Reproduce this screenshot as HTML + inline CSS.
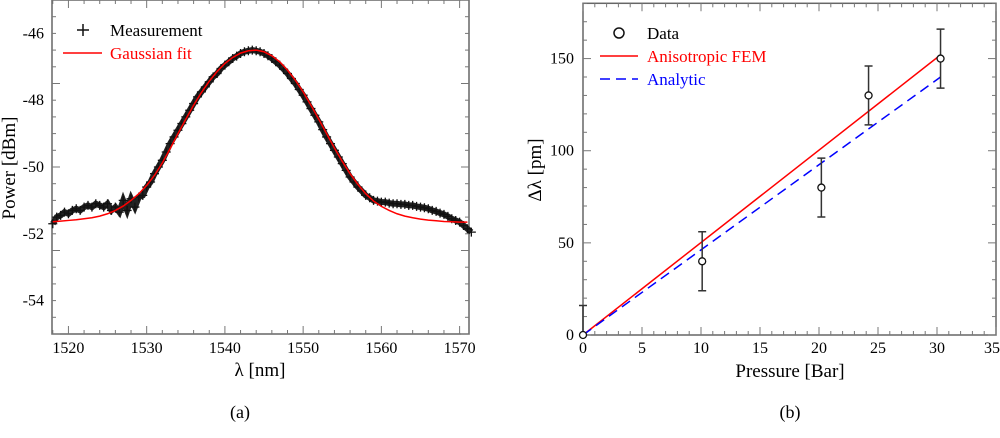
<!DOCTYPE html>
<html><head><meta charset="utf-8"><style>
html,body{margin:0;padding:0;background:#fff;}
svg{display:block;}
svg text{font-family:"Liberation Serif",serif;}
</style></head><body>
<svg id="fig" width="1000" height="438" viewBox="0 0 1000 438" font-family="Liberation Serif, serif">
<g id="pa"></g>
<g id="pb"></g>
<text x="240" y="418" font-size="18" text-anchor="middle">(a)</text>
<text x="790" y="418" font-size="18" text-anchor="middle">(b)</text>
</svg>
<script>
// ---- Panel (a) data ----
const measX0 = 1518, measStep = 0.5;
const measValues = [-51.7,-51.5,-51.45,-51.35,-51.4,-51.3,-51.25,-51.3,-51.2,-51.15,-51.2,-51.1,-51.15,-51.2,-51.1,-51.3,-51.2,-51.35,-51.0,-51.3,-50.95,-51.2,-50.9,-50.85,-50.6,-50.45,-50.2,-50.0,-49.8,-49.55,-49.3,-49.1,-48.9,-48.7,-48.5,-48.3,-48.1,-47.9,-47.75,-47.6,-47.45,-47.3,-47.2,-47.05,-46.95,-46.85,-46.75,-46.68,-46.6,-46.55,-46.52,-46.5,-46.52,-46.55,-46.6,-46.67,-46.75,-46.85,-46.95,-47.07,-47.2,-47.35,-47.5,-47.68,-47.85,-48.05,-48.25,-48.45,-48.65,-48.88,-49.1,-49.3,-49.5,-49.7,-49.9,-50.1,-50.3,-50.45,-50.6,-50.72,-50.85,-50.92,-51.0,-51.02,-51.05,-51.05,-51.08,-51.1,-51.1,-51.12,-51.12,-51.15,-51.15,-51.18,-51.2,-51.22,-51.25,-51.3,-51.33,-51.38,-51.42,-51.48,-51.55,-51.6,-51.65,-51.75,-51.85,-51.95];
const fitX0 = 1518, fitStep = 1;
const fitValues = [-51.64,-51.62,-51.6,-51.58,-51.55,-51.52,-51.47,-51.4,-51.3,-51.17,-51.0,-50.8,-50.55,-50.25,-49.88,-49.45,-49.0,-48.57,-48.15,-47.77,-47.43,-47.14,-46.9,-46.72,-46.59,-46.52,-46.5,-46.55,-46.67,-46.85,-47.1,-47.4,-47.75,-48.15,-48.57,-49.0,-49.43,-49.83,-50.2,-50.52,-50.8,-51.02,-51.18,-51.3,-51.4,-51.47,-51.52,-51.56,-51.59,-51.61,-51.63,-51.64,-51.65,-51.65];
const aXTicks = [1520,1530,1540,1550,1560,1570];
const aYTicks = [-46,-48,-50,-52,-54];
// ---- Panel (b) data ----
const pressure = [0,10.1,20.2,24.2,30.3];
const shift = [0,40,80,130,150];
const shiftErr = [16,16,16,16,16];
const femLine = [[0,0],[30.3,152]];
const analyticLine = [[0,0],[30.3,140]];
const bXTicks = [0,5,10,15,20,25,30,35];
const bYTicks = [0,50,100,150];

const NS="http://www.w3.org/2000/svg";
function mk(parent,tag,attrs){const e=document.createElementNS(NS,tag);for(const k in attrs)e.setAttribute(k,attrs[k]);parent.appendChild(e);return e;}

function frame(g,L,T,R,B,xs,ys,xMin,xMax,yMin,yMax,xMinor,yMinor){
  const r=mk(g,'rect',{x:L,y:T,width:R-L,height:B-T,fill:'none',stroke:'#666','stroke-width':1.5});
  
  
  for(let v=xMin;v<=xMax+1e-9;v+=xMinor){const x=xs(v);const maj=Math.abs(v/ (xMinor*5) - Math.round(v/(xMinor*5)))<1e-6;const len=maj?8:4;
    mk(g,'line',{x1:x,x2:x,y1:B,y2:B-len,stroke:'#777','stroke-width':1});
    mk(g,'line',{x1:x,x2:x,y1:T,y2:T+len,stroke:'#777','stroke-width':1});}
  for(let v=yMin;v<=yMax+1e-9;v+=yMinor){const y=ys(v);const maj=Math.abs(v/(yMinor*5)-Math.round(v/(yMinor*5)))<1e-6;const len=maj?8:4;
    mk(g,'line',{x1:L,x2:L+len,y1:y,y2:y,stroke:'#777','stroke-width':1});
    mk(g,'line',{x1:R,x2:R-len,y1:y,y2:y,stroke:'#777','stroke-width':1});}
}

// Panel a
(function(){
  const g=document.getElementById('pa');
  const L=52,R=469,T=0,B=334, xMin=1517.9,xMax=1571.2,yMin=-55,yMax=-45;
  const xs=v=>L+(v-xMin)/(xMax-xMin)*(R-L), ys=v=>B-(v-yMin)/(yMax-yMin)*(B-T);
  frame(g,L,T,R,B,xs,ys,1518,1570,-55,-45,2,0.5);
  aXTicks.forEach(v=>{const t=mk(g,'text',{x:xs(v),y:353,'font-size':16,'text-anchor':'middle'});t.textContent=v;
    
    });
  aYTicks.forEach(v=>{const t=mk(g,'text',{x:44,y:ys(v)+5,'font-size':16,'text-anchor':'end'});t.textContent=v;
    
    });
  const xt=mk(g,'text',{x:260,y:376,'font-size':19,'text-anchor':'middle'});xt.textContent='λ [nm]';
  
  
  const yt=mk(g,'text',{x:0,y:0,'font-size':19,'text-anchor':'middle',transform:'translate(15,168) rotate(-90)'});yt.textContent='Power [dBm]';
  
  
  const clip=mk(g,'g',{});
  let pts=measValues.map((v,i)=>xs(measX0+i*measStep)+','+ys(v)).join(' ');
  const band=mk(clip,'polyline',{points:pts,fill:'none',stroke:'#222','stroke-width':6});
  
  
  measValues.forEach((v,i)=>{const x=xs(measX0+i*measStep),y=ys(v);
    const p=mk(clip,'path',{d:`M${x-4.5},${y}H${x+4.5}M${x},${y-4.5}V${y+4.5}`,stroke:'#111','stroke-width':1.3});
    
    });
  pts=fitValues.map((v,i)=>xs(fitX0+i*fitStep)+','+ys(v)).join(' ');
  const fit=mk(g,'polyline',{points:pts,fill:'none',stroke:'#f00','stroke-width':1.5});
  
  
  const lg=mk(g,'g',{});
  mk(lg,'path',{d:'M77,30H89M83,24V36',stroke:'#111','stroke-width':1.5});
  let t=mk(lg,'text',{x:110,y:36,'font-size':17});t.textContent='Measurement';
  
  mk(lg,'line',{x1:63,x2:102,y1:53,y2:53,stroke:'#f00','stroke-width':1.5});
  t=mk(lg,'text',{x:110,y:59,'font-size':17,fill:'#f00'});t.textContent='Gaussian fit';
  
})();

// Panel b
(function(){
  const g=document.getElementById('pb');
  const L=583,R=996,T=3.3,B=335, xMin=0,xMax=35,yMin=0,yMax=180;
  const xs=v=>L+(v-xMin)/(xMax-xMin)*(R-L), ys=v=>B-(v-yMin)/(yMax-yMin)*(B-T);
  frame(g,L,T,R,B,xs,ys,0,35,0,180,1,10);
  bXTicks.forEach((v,i)=>{const last=i===bXTicks.length-1;const t=mk(g,'text',{x:last?1000:xs(v),y:353,'font-size':16,'text-anchor':last?'end':'middle'});t.textContent=v;
    
    });
  bYTicks.forEach(v=>{const t=mk(g,'text',{x:574,y:ys(v)+5,'font-size':16,'text-anchor':'end'});t.textContent=v;
    
    });
  const xt=mk(g,'text',{x:790,y:377,'font-size':19,'text-anchor':'middle'});xt.textContent='Pressure [Bar]';
  
  
  const yt=mk(g,'text',{x:0,y:0,'font-size':19,'text-anchor':'middle',transform:'translate(541,170) rotate(-90)'});yt.textContent='Δλ [pm]';
  
  
  const fem=mk(g,'line',{x1:xs(femLine[0][0]),y1:ys(femLine[0][1]),x2:xs(femLine[1][0]),y2:ys(femLine[1][1]),stroke:'#f00','stroke-width':1.5});
  
  
  const an=mk(g,'line',{x1:xs(analyticLine[0][0]),y1:ys(analyticLine[0][1]),x2:xs(analyticLine[1][0]),y2:ys(analyticLine[1][1]),stroke:'#00f','stroke-width':1.5,'stroke-dasharray':'10,6'});
  
  
  pressure.forEach((p,i)=>{const x=xs(p),y=ys(shift[i]),y1=ys(shift[i]+shiftErr[i]),y2=ys(Math.max(0,shift[i]-shiftErr[i]));
    const e=mk(g,'path',{d:`M${x},${y1}V${y2}M${x-4},${y1}H${x+4}M${x-4},${y2}H${x+4}`,stroke:'#333','stroke-width':1.5,fill:'none'});
    
    
    const c=mk(g,'circle',{cx:x,cy:y,r:3.5,fill:'#fff',stroke:'#111','stroke-width':1.3});
    
    });
  const lg=mk(g,'g',{});
  mk(lg,'circle',{cx:619,cy:33,r:5,fill:'#fff',stroke:'#111','stroke-width':1.5});
  let t=mk(lg,'text',{x:647,y:39,'font-size':17});t.textContent='Data';
  
  mk(lg,'line',{x1:600,x2:638,y1:56,y2:56,stroke:'#f00','stroke-width':1.5});
  t=mk(lg,'text',{x:647,y:62,'font-size':17,fill:'#f00'});t.textContent='Anisotropic FEM';
  
  mk(lg,'line',{x1:600,x2:638,y1:79,y2:79,stroke:'#00f','stroke-width':1.5,'stroke-dasharray':'10,6'});
  t=mk(lg,'text',{x:647,y:85,'font-size':17,fill:'#00f'});t.textContent='Analytic';
  
})();
</script>
</body></html>
